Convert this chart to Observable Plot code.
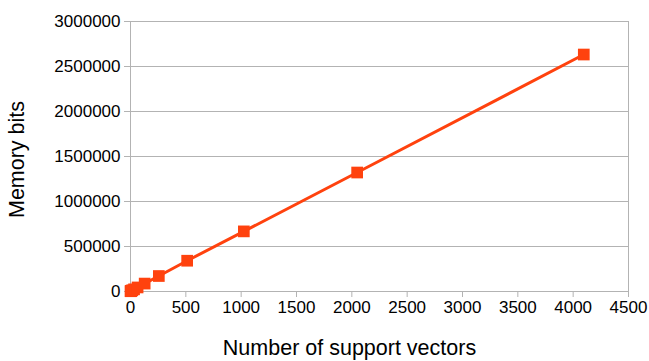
<!DOCTYPE html>
<html><head><meta charset="utf-8">
<script src="https://cdn.jsdelivr.net/npm/d3@7"></script>
<script src="https://cdn.jsdelivr.net/npm/@observablehq/plot@0.6"></script>
<style>body{margin:0;background:#fff}</style>
</head><body><div id="chart"></div>
<script>
const supportVectors = [1, 2, 4, 8, 16, 32, 64, 128, 256, 512, 1024, 2048, 4096];
const memoryBits = [3000, 4000, 5500, 8500, 14000, 24000, 45000, 88000, 172000, 342000, 668000, 1322000, 2633000];
const xTicks = [0, 500, 1000, 1500, 2000, 2500, 3000, 3500, 4000, 4500];
const yTicks = [0, 500000, 1000000, 1500000, 2000000, 2500000, 3000000];
const xTitle = "Number of support vectors";
const yTitle = "Memory bits";
const data = supportVectors.map((x, i) => ({x, y: memoryBits[i]}));
const grid = "#b3b3b3";
const chart = Plot.plot({
  width: 649, height: 361,
  marginLeft: 130, marginRight: 21, marginTop: 21, marginBottom: 70,
  style: {fontFamily: "Liberation Sans, Arial, sans-serif", fontSize: "17px", color: "#000", background: "#fff"},
  x: {domain: [0, 4500], ticks: xTicks},
  y: {domain: [0, 3000000], ticks: yTicks},
  marks: [
    Plot.gridY(yTicks, {stroke: grid, strokeOpacity: 1, strokeWidth: 1}),
    Plot.ruleX([0, 4500], {stroke: grid, strokeWidth: 1}),
    Plot.axisX(xTicks, {tickSize: 6, tickPadding: 3, stroke: grid, tickFormat: d => String(d), label: null, fontSize: 17}),
    Plot.axisY(yTicks, {tickSize: 6, tickPadding: 4, stroke: grid, tickFormat: d => String(d), label: null, fontSize: 17}),
    Plot.text([xTitle], {text: d => d, frameAnchor: "bottom", textAnchor: "middle", dx: -30, dy: 57, lineAnchor: "middle", fontSize: 21.5, fill: "#000"}),
    Plot.text([yTitle], {text: d => d, frameAnchor: "left", textAnchor: "middle", dx: -113, dy: 3, rotate: -90, lineAnchor: "middle", fontSize: 21.5, fill: "#000"}),
    Plot.line(data, {x: "x", y: "y", stroke: "#ff420e", strokeWidth: 3}),
    Plot.dot(data, {x: "x", y: "y", symbol: "square", r: 6.6, fill: "#ff420e", stroke: "none"})
  ]
});
document.getElementById("chart").append(chart);
</script></body></html>
